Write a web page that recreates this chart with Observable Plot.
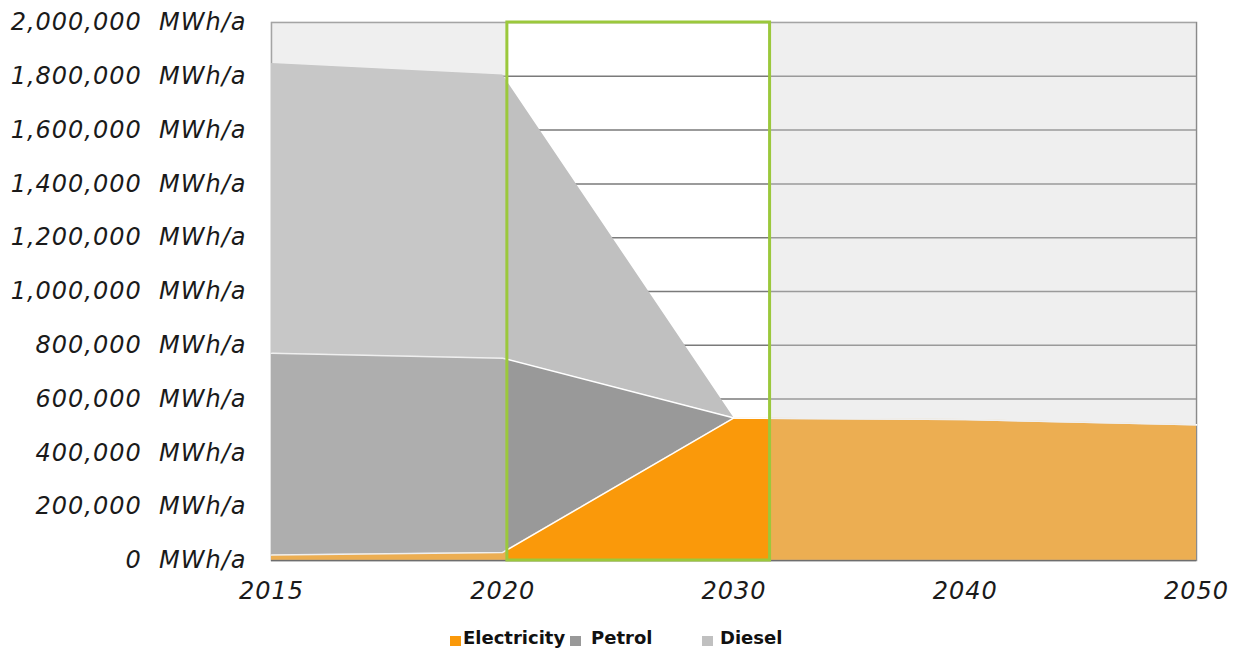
<!DOCTYPE html>
<html>
<head>
<meta charset="utf-8">
<script src="https://cdn.jsdelivr.net/npm/d3@7"></script>
<script src="https://cdn.jsdelivr.net/npm/@observablehq/plot@0.6"></script>
<style>
  html, body { margin: 0; padding: 0; background: #ffffff; }
  #wrap { position: relative; width: 1244px; height: 648px; }
  #legend { position: absolute; left: 0; top: 610px; width: 1244px; height: 38px;
            font-family: "DejaVu Sans", sans-serif; font-weight: bold; font-size: 18px; color: #111; }
  .sw { position: absolute; top: 26px; width: 11px; height: 10px; }
  .lb { position: absolute; top: 18px; line-height: 20px; white-space: nowrap; }
</style>
</head>
<body>
<div id="wrap"><div id="chart"></div><div id="legend"></div></div>
<script>
// ---- data ----
const years = [2015, 2020, 2030, 2040, 2050];
const fuels = ["Electricity", "Petrol", "Diesel"];
const electricity = [20000, 30000, 530000, 524000, 505000];
const petrol = [750000, 722000, 0, 0, 0];
const diesel = [1078000, 1053000, 0, 0, 0];
const yTicks = [0, 200000, 400000, 600000, 800000, 1000000, 1200000, 1400000, 1600000, 1800000, 2000000];
const highlight = [{from: 2020.2, to: 2031.56}];   // highlighted period (green box)
const fuelColors = ["#fa990a", "#999999", "#c0c0c0"];

const series = {Electricity: electricity, Petrol: petrol, Diesel: diesel};
const rows = [];
for (const f of fuels) years.forEach((yr, i) => rows.push({year: yr, fuel: f, value: series[f][i]}));

const yMax = yTicks[yTicks.length - 1];
const xMin = years[0], xMax = years[years.length - 1];
const shade = [
  {x1: xMin, x2: highlight[0].from},
  {x1: highlight[0].to, x2: xMax}
];

const chart = Plot.plot({
  width: 1244,
  height: 610,
  marginLeft: 271,
  marginRight: 48,
  marginTop: 22,
  marginBottom: 50,
  style: {fontFamily: "'DejaVu Sans', sans-serif", letterSpacing: "1px", color: "#1a1a1a", background: "#ffffff"},
  x: {domain: years, type: "linear"},
  y: {domain: [0, yMax]},
  color: {domain: fuels, range: fuelColors},
  marks: [
    Plot.frame({stroke: "#8a8a8a", strokeWidth: 1.5}),
    Plot.ruleY(yTicks.slice(1, -1), {stroke: "#7a7a7a", strokeWidth: 1.5}),
    Plot.areaY(rows, {x: "year", y: "value", z: "fuel", fill: "fuel", order: fuels}),
    Plot.lineY(rows.filter(d => d.fuel !== "Diesel"),
      Plot.stackY2({x: "year", y: "value", z: "fuel", order: fuels, stroke: "#ffffff", strokeWidth: 1.5})),
    Plot.ruleY([0], {stroke: "#6e6e6e", strokeWidth: 1.5}),
    Plot.rect(shade, {x1: "x1", x2: "x2", y1: 0, y2: yMax, fill: "#d2d2d2", fillOpacity: 0.36}),
    Plot.rect(highlight, {x1: "from", x2: "to", y1: 0, y2: yMax, fill: "none", stroke: "#9bc83c", strokeWidth: 3}),
    Plot.axisY({ticks: yTicks, tickSize: 0, tickPadding: 25, fontSize: 24, fontStyle: "italic",
      tickFormat: d => d3.format(",")(d) + "\u00a0\u00a0MWh/a", label: null}),
    Plot.axisX({ticks: years, tickSize: 0, tickPadding: 21, fontSize: 24, fontStyle: "italic",
      tickFormat: d => String(d), label: null})
  ]
});
document.getElementById("chart").appendChild(chart);

// legend (HTML, below the SVG)
const legendPos = [
  {sw: 450, lb: 463},
  {sw: 570, lb: 591},
  {sw: 702, lb: 720}
];
const legend = document.getElementById("legend");
fuels.forEach((f, i) => {
  const s = document.createElement("div");
  s.className = "sw";
  s.style.left = legendPos[i].sw + "px";
  s.style.background = fuelColors[i];
  legend.appendChild(s);
  const l = document.createElement("div");
  l.className = "lb";
  l.style.left = legendPos[i].lb + "px";
  l.textContent = f;
  legend.appendChild(l);
});
</script>
</body>
</html>
